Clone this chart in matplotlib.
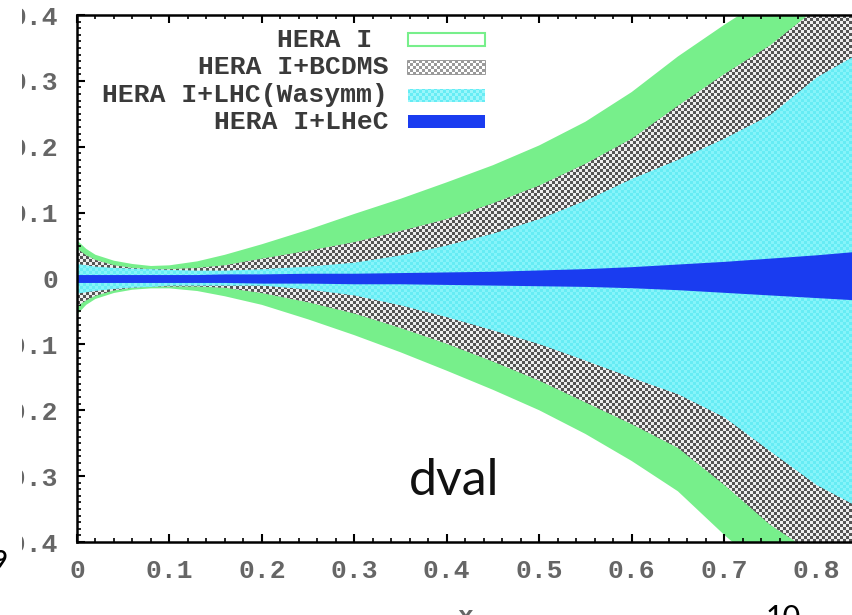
import numpy as np
import matplotlib
matplotlib.use("Agg")
import matplotlib.pyplot as plt
from matplotlib.patches import Rectangle

# band edges (x grid shared by all bands)
X = [0, 0.01, 0.02, 0.04, 0.06, 0.08, 0.1, 0.13, 0.16, 0.2, 0.25, 0.3, 0.35,
     0.4, 0.45, 0.5, 0.55, 0.6, 0.65, 0.7, 0.75, 0.8, 0.85, 0.9]

# HERA I
HERA_UP = [0.058, 0.045, 0.036, 0.027, 0.022, 0.019, 0.020, 0.026, 0.036, 0.052, 0.074, 0.098, 0.121,
           0.146, 0.172, 0.202, 0.238, 0.283, 0.337, 0.385, 0.430, 0.480, 0.530, 0.580]
HERA_LO = [-0.055, -0.040, -0.031, -0.022, -0.017, -0.015, -0.015, -0.019, -0.027, -0.040, -0.062, -0.086, -0.112,
           -0.140, -0.169, -0.200, -0.236, -0.277, -0.323, -0.389, -0.450, -0.500, -0.550, -0.600]
# HERA I+BCDMS
BCDMS_UP = [0.045, 0.035, 0.028, 0.020, 0.016, 0.014, 0.014, 0.016, 0.020, 0.030, 0.042, 0.055, 0.072,
            0.090, 0.114, 0.141, 0.174, 0.212, 0.262, 0.310, 0.354, 0.410, 0.455, 0.500]
BCDMS_LO = [-0.042, -0.033, -0.026, -0.018, -0.014, -0.012, -0.012, -0.012, -0.014, -0.022, -0.036, -0.053, -0.075,
            -0.099, -0.126, -0.155, -0.188, -0.221, -0.257, -0.313, -0.374, -0.420, -0.460, -0.500]
# HERA I+LHC(Wasymm)
LHC_UP = [0.022, 0.020, 0.018, 0.016, 0.015, 0.014, 0.013, 0.012, 0.012, 0.014, 0.018, 0.024, 0.035,
          0.050, 0.068, 0.090, 0.118, 0.151, 0.180, 0.212, 0.248, 0.305, 0.345, 0.385]
LHC_LO = [-0.022, -0.020, -0.018, -0.015, -0.013, -0.012, -0.010, -0.010, -0.010, -0.010, -0.016, -0.025, -0.040,
          -0.058, -0.078, -0.099, -0.124, -0.150, -0.175, -0.210, -0.262, -0.313, -0.350, -0.390]
# HERA I+LHeC
LHEC_UP = [0.006, 0.006, 0.006, 0.006, 0.006, 0.006, 0.006, 0.006, 0.007, 0.007, 0.008, 0.008, 0.009,
           0.010, 0.011, 0.013, 0.015, 0.018, 0.022, 0.026, 0.031, 0.036, 0.042, 0.048]
LHEC_LO = [-0.006, -0.006, -0.006, -0.006, -0.006, -0.006, -0.006, -0.006, -0.006, -0.007, -0.007, -0.008, -0.008,
           -0.009, -0.010, -0.011, -0.012, -0.014, -0.017, -0.021, -0.025, -0.029, -0.033, -0.038]

LABELS = ["HERA I ", "HERA I+BCDMS", "HERA I+LHC(Wasymm)", "HERA I+LHeC"]

XTICKS = [0, 0.1, 0.2, 0.3, 0.4, 0.5, 0.6, 0.7, 0.8, 0.9]
XTICKLABELS = ["0", "0.1", "0.2", "0.3", "0.4", "0.5", "0.6", "0.7", "0.8", "0.9"]
YTICKS = [-0.4, -0.3, -0.2, -0.1, 0, 0.1, 0.2, 0.3, 0.4]
YTICKLABELS = ["-0.4", "-0.3", "-0.2", "-0.1", "0", "0.1", "0.2", "0.3", "0.4"]

GREEN = "#77ef8b"
CYAN = "#70eef6"
BLUE = "#1a3cf0"
MONO = "Liberation Mono"
FS = 19

W, H = 853, 615
fig = plt.figure(figsize=(W / 100, H / 100), dpi=100)
# axes runs past the right edge of the picture (it is cropped there)
ax = fig.add_axes([77 / W, (H - 542) / H, 832 / W, 527 / H])
XLIM = (0, 0.9)
YLIM = (-0.4, 0.4)


def pattern(ax, c1, c2, clip, transform, zorder, cell=3):
    ny, nx = 527 // cell, 832 // cell
    ii, jj = np.indices((ny, nx))
    chk = ((ii + jj) % 2).astype(float)[..., None]
    img = chk * np.array(matplotlib.colors.to_rgb(c1)) + (1 - chk) * np.array(matplotlib.colors.to_rgb(c2))
    im = ax.imshow(img, extent=(*XLIM, *YLIM), aspect="auto", interpolation="nearest", zorder=zorder)
    if transform is None:
        im.set_clip_path(clip)
    else:
        im.set_clip_path(clip, transform)
    return im


ax.fill_between(X, HERA_LO, HERA_UP, color=GREEN, lw=0, zorder=1)
grey = ax.fill_between(X, BCDMS_LO, BCDMS_UP, color="#999999", lw=0, zorder=2)
pattern(ax, "#555555", "#eeeeee", grey.get_paths()[0], ax.transData, 2.1)
cyan = ax.fill_between(X, LHC_LO, LHC_UP, color=CYAN, lw=0, zorder=3)
pattern(ax, "#66ecf4", "#86f4fa", cyan.get_paths()[0], ax.transData, 3.1)
ax.fill_between(X, LHEC_LO, LHEC_UP, color=BLUE, lw=0, zorder=4)

ax.set_xlim(*XLIM)
ax.set_ylim(*YLIM)

# gnuplot style key
rows = [0.953, 0.901, 0.848, 0.797]
for lab, ry in zip(LABELS, rows):
    ax.text(0.374, ry, lab, transform=ax.transAxes, ha="right", va="center",
            family=MONO, fontsize=FS, weight="bold", color="#3a3a3a", zorder=6)
bw, bh = 0.0925, 0.0247
ax.add_patch(Rectangle((0.398, rows[0] - bh / 2), bw, bh, transform=ax.transAxes,
                       facecolor="white", edgecolor=GREEN, lw=1.5, zorder=6))
r1 = Rectangle((0.398, rows[1] - bh / 2), bw, bh, transform=ax.transAxes,
               facecolor="#dddddd", edgecolor="#888888", lw=1.2, zorder=6)
ax.add_patch(r1)
pattern(ax, "#9a9a9a", "#ffffff", r1, None, 6.1)
r2 = Rectangle((0.398, rows[2] - bh / 2), bw, bh, transform=ax.transAxes,
               facecolor=CYAN, edgecolor="none", zorder=6)
ax.add_patch(r2)
pattern(ax, "#66ecf4", "#9af6fb", r2, None, 6.1)
ax.add_patch(Rectangle((0.398, rows[3] - bh / 2), bw, bh, transform=ax.transAxes,
                       facecolor=BLUE, edgecolor="none", zorder=6))

ax.text(0.453, 0.089, "dval", transform=ax.transAxes, ha="center", va="baseline",
        family="Lato", fontsize=36, color="#111111", zorder=7)

ax.set_xticks(XTICKS)
ax.set_xticklabels(XTICKLABELS)
ax.set_yticks(YTICKS)
ax.set_yticklabels(YTICKLABELS)
ax.set_xticks(np.arange(0, 0.901, 0.02), minor=True)
ax.set_yticks(np.arange(-0.4, 0.401, 0.01), minor=True)
ax.tick_params(which="both", direction="in", top=True, right=True, colors="black",
               labelcolor="#666666")
ax.tick_params(which="major", length=6, width=1.5)
ax.tick_params(which="minor", length=3, width=1.2)
ax.tick_params(axis="y", which="major", pad=13.5)
ax.tick_params(axis="x", which="major", pad=12)
for t in ax.get_xticklabels() + ax.get_yticklabels():
    t.set_family(MONO)
    t.set_fontsize(FS)
    t.set_weight("bold")
for s in ax.spines.values():
    s.set_linewidth(1.8)
    s.set_zorder(8)

# left part of the picture is cut off
fig.add_artist(Rectangle((0, 0), 22 / W, 1, transform=fig.transFigure,
                         facecolor="white", edgecolor="none", zorder=10))
fig.text(8 / W, (H - 560) / H, "9", ha="right", va="center", family="Lato",
         fontsize=17, weight="bold", color="black", zorder=11)
fig.text(465 / W, -0.014, "x", ha="center", va="baseline", family=MONO,
         fontsize=FS, weight="bold", color="#666666")
fig.text(783 / W, 0.018, "10", ha="center", va="top", family="Lato",
         fontsize=22, color="black")

fig.savefig("out.png", dpi=100)
